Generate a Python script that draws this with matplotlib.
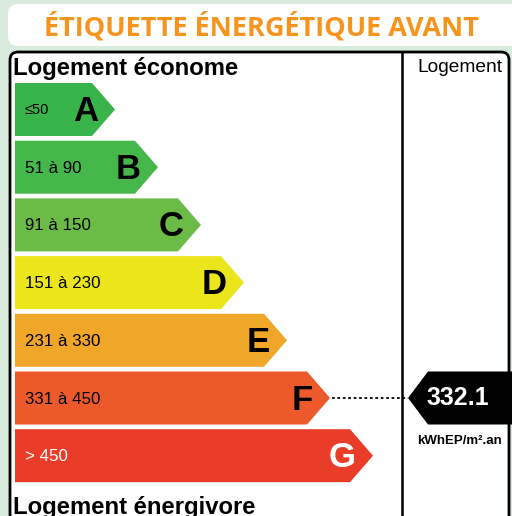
import matplotlib.pyplot as plt
from matplotlib.patches import Polygon, FancyBboxPatch

# data
classes = ['A', 'B', 'C', 'D', 'E', 'F', 'G']
ranges = ['\u226450', '51 à 90', '91 à 150', '151 à 230', '231 à 330', '331 à 450', '> 450']
colors = ['#38b44a', '#45b74b', '#6bbc46', '#ebe51c', '#f0a628', '#ec5a2b', '#e93c29']
letter_colors = ['black', 'black', 'black', 'black', 'black', 'black', 'white']
range_colors = ['black', 'black', 'black', 'black', 'black', 'black', 'white']
value = 332.1
value_class = 'F'
unit = 'kWhEP/m².an'
title = 'ÉTIQUETTE ÉNERGÉTIQUE AVANT'

fig = plt.figure(figsize=(5.12, 5.16), dpi=100)
fig.patch.set_facecolor('#d8ebdd')
ax = fig.add_axes([0, 0, 1, 1])
ax.set_xlim(0, 512)
ax.set_ylim(516, 0)
ax.axis('off')

# title box
ax.add_patch(FancyBboxPatch((8, 4), 520, 42, boxstyle='round,pad=0,rounding_size=10',
                            fc='white', ec='none'))
ax.text(261, 27, title, ha='center', va='center', color='#f7941d',
        fontsize=19.5, fontweight='bold', family='Open Sans')

# main panel
ax.add_patch(FancyBboxPatch((10, 52), 499, 480, boxstyle='round,pad=0,rounding_size=8',
                            fc='white', ec='black', lw=2))
ax.plot([402, 402], [52, 516], color='black', lw=1.8)
ax.text(13, 75, 'Logement économe', ha='left', va='baseline', fontsize=17.2,
        fontweight='bold', family='Liberation Sans')
ax.text(460, 72, 'Logement', ha='center', va='baseline', fontsize=13.8, family='Liberation Sans')
ax.text(13, 514, 'Logement énergivore', ha='left', va='baseline', fontsize=17.2,
        fontweight='bold', family='Liberation Sans')

# bars
x0 = 15
top0 = 83
step = 57.7
h = 53
taper = 23
for i, (c, r, col) in enumerate(zip(classes, ranges, colors)):
    y = top0 + i * step
    tip = 115 + i * 43
    body = tip - taper
    ax.add_patch(Polygon([(x0, y), (body, y), (tip, y + h / 2), (body, y + h), (x0, y + h)],
                         closed=True, fc=col, ec='none'))
    ax.text(body + 6, y + h / 2 + 2, c, ha='right', va='center', fontsize=25,
            fontweight='bold', color=letter_colors[i], family='Liberation Sans')
    ax.text(x0 + 10, y + h / 2 + 1, r, ha='left', va='center',
            fontsize=10.5 if i == 0 else 12.2,
            color=range_colors[i], family='Liberation Sans')

# value indicator
k = classes.index(value_class)
y = top0 + k * step
tip = 115 + k * 43
ax.plot([tip + 2, 408], [y + h / 2, y + h / 2], color='black', lw=1.3, ls=(0, (1.5, 1.5)))
ax.add_patch(Polygon([(408, y + h / 2), (428, y), (512, y), (512, y + h), (428, y + h)],
                     closed=True, fc='black', ec='none'))
ax.text(458, y + h / 2, f'{value:.1f}', ha='center', va='center', color='white',
        fontsize=18, fontweight='bold', family='Liberation Sans')
ax.text(460, y + h + 16, unit, ha='center', va='center', fontsize=9.5,
        fontweight='bold', family='Liberation Sans')

fig.savefig('out.png', dpi=100, facecolor=fig.get_facecolor())
